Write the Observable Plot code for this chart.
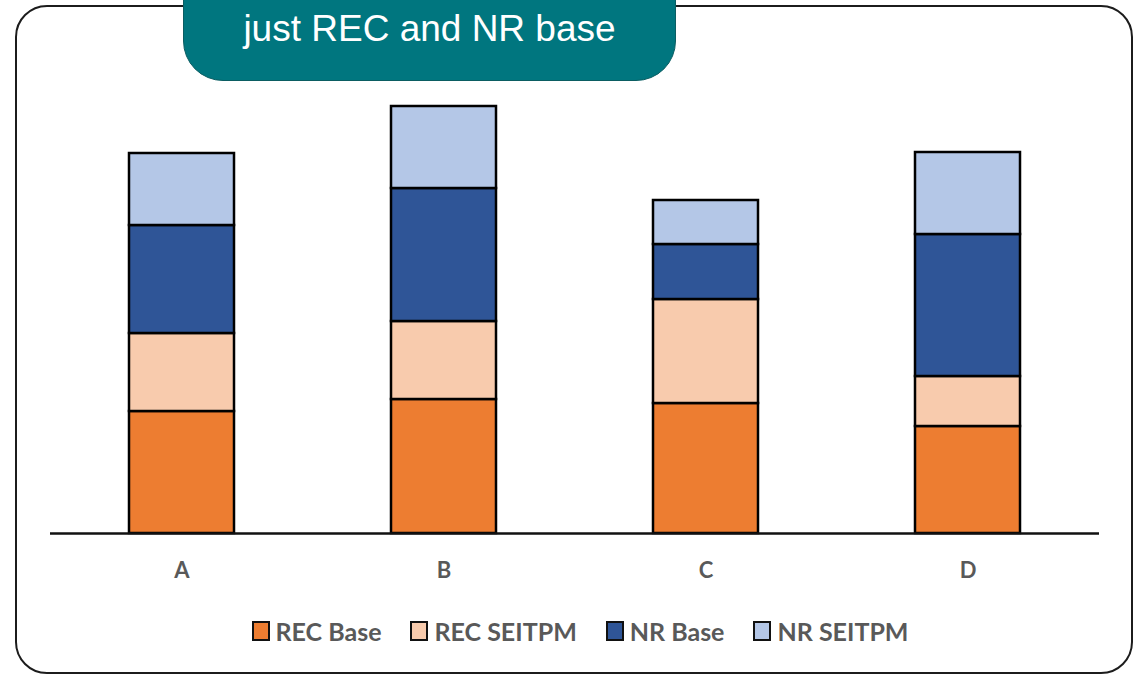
<!DOCTYPE html>
<html>
<head>
<meta charset="utf-8">
<script src="https://cdn.jsdelivr.net/npm/d3@7"></script>
<script src="https://cdn.jsdelivr.net/npm/@observablehq/plot@0.6"></script>
<style>
  html, body { margin: 0; padding: 0; background: #fff; }
  #wrap { position: relative; width: 1136px; height: 675px; overflow: hidden; background: #fff; }
  #frame {
    position: absolute; left: 15px; top: 5px; width: 1118px; height: 669px;
    box-sizing: border-box; border: 2px solid #1c1c1c; border-radius: 32px;
  }
  #chart { position: absolute; left: 0; top: 0; }
  #tab {
    position: absolute; left: 183px; top: -50px; width: 493px; height: 131px;
    box-sizing: border-box; background: #00767f; border: 1.5px solid #0b5d62;
    border-radius: 40px;
  }
  #tab span {
    position: absolute; left: 0; right: 0; top: 56px; text-align: center;
    color: #fff; font-family: "Liberation Sans", Arial, sans-serif; font-size: 37px; line-height: 44px;
  }
  #legend {
    position: absolute; left: 0; width: 1160px; top: 616px;
    display: flex; justify-content: center; gap: 29px;
    font-family: Lato, "Open Sans", sans-serif; font-weight: bold; font-size: 25px; color: #595959;
  }
  .item { display: flex; align-items: center; gap: 6px; }
  .sw { width: 14px; height: 16px; border: 2.5px solid #111; }
</style>
</head>
<body>
<div id="wrap">
  <div id="frame"></div>
  <div id="chart"></div>
  <div id="tab"><span>just REC and NR base</span></div>
  <div id="legend"></div>
</div>
<script>
// Categories along the x axis
const categories = ["A", "B", "C", "D"];

// Series, stacked bottom to top
const seriesNames = ["REC Base", "REC SEITPM", "NR Base", "NR SEITPM"];
const seriesColors = ["#ed7d31", "#f8cbad", "#2f5597", "#b4c7e7"];

// Values per category (A, B, C, D)
const recBase   = [122, 134, 130, 107];
const recSeitpm = [78, 78, 104, 50];
const nrBase    = [108, 133, 55, 142];
const nrSeitpm  = [72, 82, 44, 82];

const seriesValues = [recBase, recSeitpm, nrBase, nrSeitpm];
const rows = [];
seriesNames.forEach((s, si) => {
  categories.forEach((c, ci) => rows.push({category: c, series: s, value: seriesValues[si][ci]}));
});

const chart = Plot.plot({
  width: 1136,
  height: 600,
  marginLeft: 50,
  marginRight: 37,
  marginTop: 103,
  marginBottom: 67,
  style: {background: "transparent", overflow: "visible"},
  x: {domain: categories, paddingInner: 0.6, paddingOuter: 0.3, label: null},
  y: {domain: [0, 430], axis: null},
  color: {domain: seriesNames, range: seriesColors},
  marks: [
    Plot.barY(rows, Plot.stackY({order: seriesNames}, {
      x: "category", y: "value", z: "series", fill: "series",
      stroke: "#000", strokeWidth: 2.5
    })),
    Plot.ruleY([0], {stroke: "#111", strokeWidth: 2.5}),
    Plot.axisX({
      tickSize: 0, tickPadding: 29, label: null,
      fontSize: 22, fontWeight: "bold", fill: "#595959",
      fontFamily: "Lato, 'Open Sans', sans-serif"
    })
  ]
});
document.getElementById("chart").appendChild(chart);

// Legend row
const legend = document.getElementById("legend");
seriesNames.forEach((s, i) => {
  const item = document.createElement("div");
  item.className = "item";
  const sw = document.createElement("div");
  sw.className = "sw";
  sw.style.background = seriesColors[i];
  const label = document.createElement("span");
  label.textContent = s;
  item.appendChild(sw);
  item.appendChild(label);
  legend.appendChild(item);
});
</script>
</body>
</html>
